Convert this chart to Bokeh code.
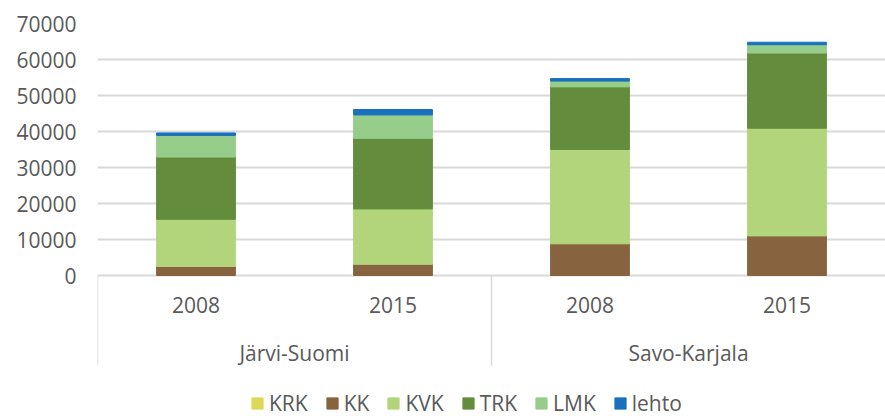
from bokeh.plotting import figure
from bokeh.models import (FactorRange, Range1d, FixedTicker, ColumnDataSource,
                          Legend, LegendItem, NumeralTickFormatter)
from bokeh.transform import dodge
from bokeh.core.properties import value
from bokeh.embed import file_html
from bokeh.resources import INLINE

# ---- data ----
regions = ["Järvi-Suomi", "Järvi-Suomi", "Savo-Karjala", "Savo-Karjala"]
years = ["2008", "2015", "2008", "2015"]
classes = ["KRK", "KK", "KVK", "TRK", "LMK", "lehto"]
KRK = [0, 0, 0, 0]
KK = [2500, 3100, 8800, 11000]
KVK = [13100, 15400, 26200, 29900]
TRK = [17300, 19600, 17400, 20900]
LMK = [6000, 6500, 1600, 2300]
lehto = [700, 1500, 700, 700]
y_ticks = [0, 10000, 20000, 30000, 40000, 50000, 60000, 70000]

colors = ["#dcd95a", "#87643f", "#b2d57b", "#638d3d", "#97cd8a", "#1a70bd"]
TXT = "#595959"
GRID = "#d9d9d9"
FONT = "Open Sans"
FS = "21px"

factors = list(zip(regions, years))
src = ColumnDataSource(dict(x=factors, KRK=KRK, KK=KK, KVK=KVK, TRK=TRK,
                            LMK=LMK, lehto=lehto))

W, H = 885, 416
TOP, LEFT = 23, 97
PX_PER_UNIT = 3.6 / 1000.0
frame_h = H - TOP
y_top = 70000
y_bottom = y_top - frame_h / PX_PER_UNIT

p = figure(width=W, height=H,
           x_range=FactorRange(*factors, group_padding=0, factor_padding=0),
           y_range=Range1d(y_bottom, y_top),
           x_axis_location=None,
           output_backend="svg", toolbar_location=None,
           min_border_left=LEFT, min_border_top=TOP,
           min_border_bottom=0, min_border_right=0)
p.outline_line_color = None
p.background_fill_color = "white"
p.border_fill_color = "white"

ticker = FixedTicker(ticks=y_ticks)
p.yaxis.ticker = ticker
p.yaxis.formatter = NumeralTickFormatter(format="0")
p.yaxis.axis_line_color = None
p.yaxis.major_tick_line_color = None
p.yaxis.minor_tick_line_color = None
p.yaxis.major_tick_out = 0
p.yaxis.major_tick_in = 0
p.yaxis.major_label_standoff = 21
p.yaxis.major_label_text_font = FONT
p.yaxis.major_label_text_font_size = FS
p.yaxis.major_label_text_color = TXT

p.ygrid.ticker = ticker
p.ygrid.grid_line_color = GRID
p.ygrid.grid_line_width = 2
p.xgrid.visible = False

renderers = p.vbar_stack(classes, x="x", width=0.4, color=colors, source=src)

# category axis (drawn below zero inside the frame)
sep_src = ColumnDataSource(dict(x=[f for f in factors if f[1] == years[0]]))
p.segment(x0=dodge("x", -0.5, range=p.x_range), x1=dodge("x", -0.5, range=p.x_range),
          y0=0, y1=-25000, source=sep_src, line_color=GRID, line_width=1.5)

year_src = ColumnDataSource(dict(x=factors, t=years))
p.text(x="x", y=-8300, text="t", source=year_src, text_align="center",
       text_baseline="middle", text_font=value(FONT), text_font_size=FS,
       text_color=TXT)

groups = sorted(set(regions), key=regions.index)
grp_src = ColumnDataSource(dict(x=groups, t=groups))
p.text(x="x", y=-21400, text="t", source=grp_src, text_align="center",
       text_baseline="middle", text_font=value(FONT), text_font_size=FS,
       text_color=TXT)

legend = Legend(items=[LegendItem(label=c, renderers=[r]) for c, r in zip(classes, renderers)],
                orientation="horizontal", location=(153, -1),
                padding=0, margin=0, border_line_color=None,
                background_fill_alpha=0, glyph_width=14, glyph_height=14,
                label_standoff=5, spacing=17,
                label_text_font=FONT, label_text_font_size=FS,
                label_text_color=TXT)
p.add_layout(legend)

open("out.html", "w").write(file_html(p, INLINE))
